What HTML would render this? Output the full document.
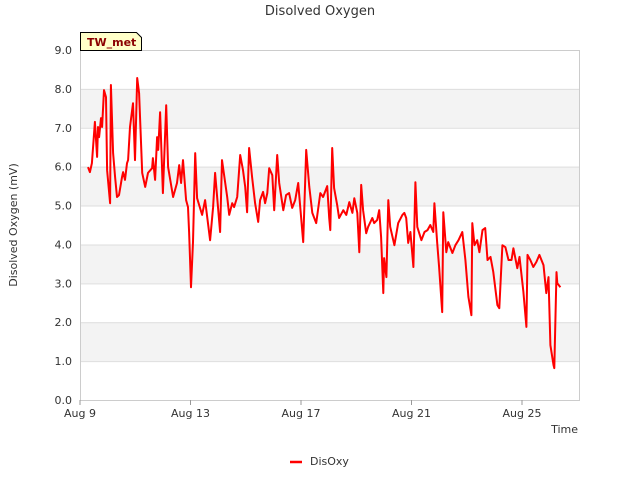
<!DOCTYPE html>
<html><head><meta charset="utf-8"><style>
body{margin:0;background:#fff;font-family:"Liberation Sans","DejaVu Sans",sans-serif;}
svg text{font-family:"DejaVu Sans","Liberation Sans",sans-serif;}
</style></head><body>
<svg width="640" height="480" xmlns="http://www.w3.org/2000/svg">
<text x="320" y="15" text-anchor="middle" font-size="13" fill="#333">Disolved Oxygen</text>
<g id="plot"></g>
<text transform="translate(17,225) rotate(-90)" text-anchor="middle" font-size="11" fill="#333">Disolved Oxygen (mV)</text>
<text x="578" y="433" text-anchor="end" font-size="11" fill="#333">Time</text>
<g>
<line x1="290" y1="462" x2="302" y2="462" stroke="#f00" stroke-width="2.5"/>
<text x="310" y="465" font-size="11" fill="#333">DisOxy</text>
</g>
<g>
<path d="M80.5,32.5 H136.5 L141.5,37.5 V50.5 H80.5 Z" fill="#ffffc8" stroke="#000" stroke-width="1"/>
<text x="87" y="46" font-size="11" font-weight="bold" fill="#8b0000">TW_met</text>
</g>
</svg>
<script>
const yTicks=[0,1,2,3,4,5,6,7,8,9];
const xTickDays=[0,4,8,12,16];
const xTickLabels=["Aug 9","Aug 13","Aug 17","Aug 21","Aug 25"];
const days=[0.29,0.36,0.43,0.54,0.62,0.65,0.69,0.76,0.8,0.87,0.94,0.98,1.09,1.12,1.2,1.27,1.34,1.41,1.52,1.56,1.63,1.7,1.74,1.81,1.92,1.99,2.07,2.14,2.25,2.36,2.46,2.61,2.64,2.72,2.79,2.83,2.9,3.0,3.12,3.19,3.37,3.51,3.59,3.66,3.73,3.84,3.91,3.95,4.02,4.09,4.17,4.24,4.42,4.53,4.64,4.71,4.82,4.89,5.07,5.14,5.33,5.4,5.51,5.58,5.69,5.8,5.9,5.98,6.05,6.12,6.23,6.34,6.45,6.52,6.63,6.7,6.78,6.85,6.96,7.03,7.14,7.21,7.36,7.46,7.57,7.68,7.79,7.9,8.08,8.19,8.3,8.41,8.55,8.7,8.8,8.95,9.02,9.06,9.13,9.2,9.31,9.38,9.53,9.64,9.75,9.86,9.93,10.04,10.11,10.18,10.25,10.36,10.43,10.58,10.65,10.76,10.83,10.9,10.98,11.01,11.09,11.16,11.23,11.38,11.52,11.67,11.74,11.81,11.88,11.96,12.07,12.14,12.21,12.36,12.47,12.58,12.68,12.79,12.83,12.93,13.0,13.11,13.15,13.26,13.33,13.48,13.59,13.7,13.84,13.95,14.06,14.17,14.2,14.28,14.38,14.46,14.57,14.67,14.75,14.86,14.96,15.11,15.18,15.29,15.4,15.51,15.62,15.69,15.83,15.91,16.05,16.16,16.2,16.3,16.41,16.52,16.63,16.78,16.88,16.96,17.03,17.14,17.17,17.25,17.28,17.39];
const oxy=[5.99,5.86,6.09,7.15,6.25,7.02,6.76,7.25,7.02,7.97,7.79,5.91,5.06,8.1,6.35,5.73,5.22,5.27,5.73,5.86,5.66,6.09,6.17,7.02,7.63,6.17,8.28,7.89,5.84,5.48,5.84,5.96,6.22,5.66,6.76,6.43,7.4,5.32,7.58,5.99,5.22,5.58,6.04,5.58,6.17,5.14,4.96,4.32,2.9,4.06,6.35,5.19,4.76,5.14,4.5,4.11,4.96,5.84,4.32,6.17,5.22,4.76,5.06,4.96,5.22,6.3,5.91,5.48,4.83,6.48,5.73,5.06,4.58,5.14,5.35,5.06,5.32,5.96,5.78,4.88,6.3,5.58,4.88,5.27,5.32,4.94,5.14,5.58,4.06,6.43,5.48,4.81,4.55,5.32,5.22,5.5,4.68,4.37,6.48,5.45,5.01,4.68,4.88,4.76,5.09,4.81,5.19,4.81,3.8,5.53,4.88,4.29,4.45,4.68,4.55,4.63,4.88,4.19,2.75,3.65,3.16,5.14,4.45,3.98,4.55,4.76,4.81,4.68,4.04,4.32,3.42,5.6,4.45,4.11,4.32,4.37,4.5,4.32,5.06,4.04,3.42,2.26,4.83,3.8,4.06,3.78,3.98,4.11,4.32,3.6,2.65,2.18,4.55,3.98,4.11,3.8,4.37,4.42,3.6,3.68,3.29,2.44,2.36,3.98,3.93,3.6,3.6,3.9,3.39,3.68,2.78,1.88,3.73,3.6,3.42,3.55,3.73,3.47,2.75,3.16,1.41,0.9,0.82,3.29,3.0,2.9];
const L=80,R=580,T=50,B=400,ns="http://www.w3.org/2000/svg";
const xs=d=>L+d*(R-L)/18.1, ys=v=>B-v*(B-T)/9;
const g=document.getElementById('plot');
function mk(t,a){const e=document.createElementNS(ns,t);for(const k in a)e.setAttribute(k,a[k]);g.appendChild(e);return e;}
for(let i=0;i<yTicks.length-1;i++){if(yTicks[i]%2===1){const r=mk('rect',{x:L,y:ys(yTicks[i]+1),width:R-L,height:ys(yTicks[i])-ys(yTicks[i]+1),fill:'#f3f3f3'});

}}
yTicks.forEach(v=>{const l=mk('line',{x1:L,x2:R,y1:ys(v)+0.5,y2:ys(v)+0.5,stroke:'#ddd'});


const t=mk('text',{x:L-8,y:ys(v)+4,'text-anchor':'end','font-size':'11',fill:'#333'});t.textContent=v.toFixed(1);

});
const fr=mk('rect',{x:L+0.5,y:T+0.5,width:R-L-1,height:B-T,fill:'none',stroke:'#ccc'});


xTickDays.forEach((d,i)=>{const tk=mk('line',{x1:xs(d),x2:xs(d),y1:B,y2:B+5,stroke:'#999'});


const t=mk('text',{x:xs(d),y:B+17,'text-anchor':'middle','font-size':'11',fill:'#333'});t.textContent=xTickLabels[i];

});
const p=mk('polyline',{points:days.map((d,i)=>xs(d).toFixed(1)+','+ys(oxy[i]).toFixed(1)).join(' '),fill:'none',stroke:'#f00','stroke-width':'2','stroke-linejoin':'round'});


</script>
</body></html>
